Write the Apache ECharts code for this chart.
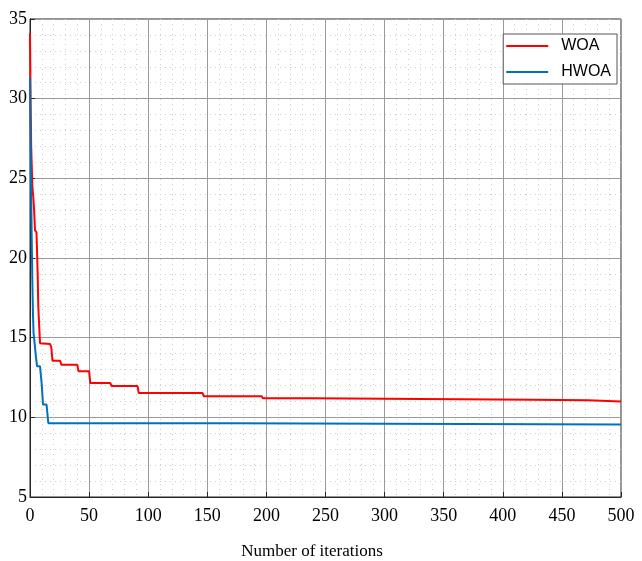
<!DOCTYPE html>
<html>
<head>
<meta charset="utf-8">
<script src="https://cdn.jsdelivr.net/npm/echarts@6/dist/echarts.min.js"></script>
<style>
  html, body { margin: 0; padding: 0; background: #fff; }
  #chart { width: 642px; height: 561px; }
</style>
</head>
<body>
<div id="chart"></div>
<script>
// convergence curves, [iteration, fitness]
var woaData = [
  [0, 34.1], [0.5, 30], [1, 27], [2, 24.5], [2.8, 23.8], [3.5, 23], [4.2, 21.75],
  [5.5, 21.6], [6.5, 19], [7, 17], [7.6, 16], [8.5, 14.65], [17, 14.6], [18, 14.4],
  [19, 13.55], [25.5, 13.55], [26.5, 13.3], [40, 13.3], [41, 12.9], [50, 12.9],
  [51, 12.15], [68, 12.15], [69, 11.96], [91, 11.96], [92, 11.52], [146, 11.52],
  [147, 11.33], [196, 11.33], [197, 11.2], [238, 11.2], [239, 11.1], [425, 11.1],
  [426, 11.07], [472, 11.07], [473, 11.0], [500, 11.0]
];
var hwoaData = [
  [0, 31.35], [0.5, 27], [1, 24], [1.5, 21], [2, 18.5], [2.5, 16.5], [3, 15.3],
  [4, 14.6], [5, 13.8], [6, 13.2], [8.5, 13.2], [10, 12], [11, 10.8], [14, 10.8],
  [15.5, 9.63], [171, 9.63], [172, 9.55], [500, 9.55]
];
var seriesNames = ['WOA', 'HWOA'];
var xName = 'Number of iterations';

var chart = echarts.init(document.getElementById('chart'));

var serif = '"Liberation Serif", "DejaVu Serif", serif';

function axisCommon() {
  return {
    axisLine: { show: true, lineStyle: { color: '#262626', width: 1 } },
    axisTick: { show: true, inside: true, length: 5, lineStyle: { color: '#262626' } },
    splitLine: { show: true, lineStyle: { color: '#9a9a9a', width: 1 } },
    minorTick: { show: false, splitNumber: 5 },
    minorSplitLine: { show: true, lineStyle: { color: '#cfcfcf', type: [1, 4], width: 1 } },
    axisLabel: { color: '#000', fontFamily: serif, fontSize: 18 }
  };
}

var xAxis = axisCommon();
xAxis.type = 'value';
xAxis.min = 0;
xAxis.max = 500;
xAxis.interval = 50;
xAxis.axisLabel.margin = 10;
xAxis.name = xName;
xAxis.nameLocation = 'middle';
xAxis.nameGap = 46;
xAxis.nameTextStyle = { color: '#000', fontFamily: serif, fontSize: 17, padding: [0, 27, 0, 0] };

var yAxis = axisCommon();
yAxis.type = 'value';
yAxis.min = 5;
yAxis.max = 35;
yAxis.interval = 5;
yAxis.axisLabel.margin = 3;

chart.setOption({
  animation: false,
  backgroundColor: '#fff',
  grid: {
    left: 30, right: 21, top: 19, bottom: 64,
    outerBoundsMode: 'none',
    show: true, borderColor: '#262626', borderWidth: 1, backgroundColor: '#fff'
  },
  legend: {
    right: 25, top: 34,
    orient: 'vertical',
    itemWidth: 42, itemHeight: 2, itemGap: 10,
    backgroundColor: '#fff',
    borderColor: '#555', borderWidth: 1,
    padding: [4, 6, 4, 3],
    icon: 'rect',
    textStyle: { color: '#000', fontFamily: '"Liberation Sans", Arial, sans-serif', fontSize: 16, padding: [0, 0, 0, 8] },
    data: seriesNames
  },
  xAxis: xAxis,
  yAxis: yAxis,
  series: [
    {
      name: seriesNames[0], type: 'line', data: woaData, showSymbol: false,
      lineStyle: { color: '#ff0000', width: 2 }, itemStyle: { color: '#ff0000' }, z: 3
    },
    {
      name: seriesNames[1], type: 'line', data: hwoaData, showSymbol: false,
      lineStyle: { color: '#0072bd', width: 2 }, itemStyle: { color: '#0072bd' }, z: 4
    }
  ]
});
</script>
</body>
</html>
